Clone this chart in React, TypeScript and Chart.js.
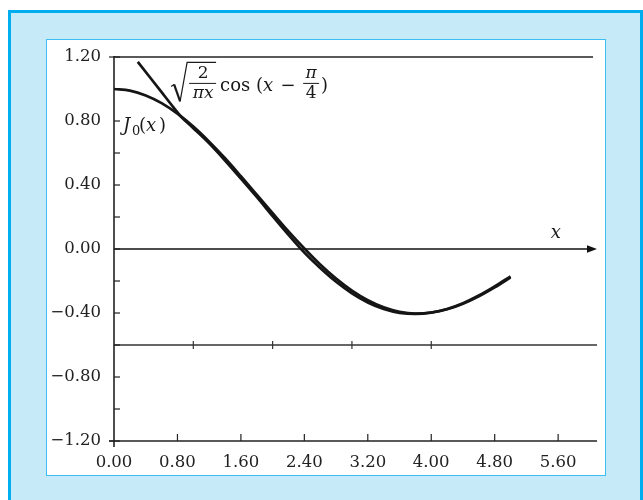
import React, { useEffect, useRef } from 'react';
import { Chart, registerables } from 'chart.js';
Chart.register(...registerables);

// J0(x) series
const X_J0 = [0, 0.2, 0.4, 0.6, 0.8, 1.0, 1.2, 1.4, 1.6, 1.8, 2.0, 2.2, 2.4, 2.6, 2.8, 3.0, 3.2, 3.4, 3.6, 3.8, 4.0, 4.2, 4.4, 4.6, 4.8, 5.0];
const Y_J0 = [1.0, 0.990, 0.960, 0.912, 0.846, 0.765, 0.671, 0.567, 0.455, 0.340, 0.224, 0.110, 0.003, -0.097, -0.185, -0.260, -0.320, -0.364, -0.392, -0.403, -0.397, -0.377, -0.342, -0.296, -0.240, -0.178];
// asymptotic form series (as drawn)
const X_ASYM = [0.30, 0.45, 0.6, 0.75, 0.85, 1.0, 1.2, 1.4, 1.6, 1.8, 2.0, 2.2, 2.4, 2.6, 2.8, 3.0, 3.2, 3.4, 3.6, 3.8, 4.0, 4.2, 4.4, 4.6, 4.8, 5.0];
const Y_ASYM = [1.17, 1.075, 0.98, 0.885, 0.825, 0.755, 0.660, 0.553, 0.440, 0.325, 0.205, 0.088, -0.023, -0.119, -0.205, -0.277, -0.334, -0.375, -0.399, -0.406, -0.398, -0.375, -0.339, -0.291, -0.234, -0.171];

const X_TICKS = [0, 0.8, 1.6, 2.4, 3.2, 4.0, 4.8, 5.6];
const Y_TICKS = [-1.2, -0.8, -0.4, 0, 0.4, 0.8, 1.2];
const Y_MINOR_TICKS = [-1.2, -1.0, -0.8, -0.6, -0.4, -0.2, 0, 0.2, 0.4, 0.6, 0.8, 1.0, 1.2];
const MID_LINE_TICKS = [1, 2, 3, 4];
const X_MIN = 0;
const X_MAX = 6.09;
const Y_MIN = -1.2;
const Y_MAX = 1.2;
const TOP_LINE_VALUE = 1.2;
const TOP_LINE_END = 6.04;
const ZERO_LINE_VALUE = 0;
const MID_LINE_VALUE = -0.6;
const J0_LABEL_AT = [0.115, 0.765];
const ASYM_LABEL_AT = [0.72, 1.035];
const X_LABEL_AT = [5.57, 0.10];

const SERIF = '"DejaVu Serif", serif';

const fmt = (v: number) => (v < 0 ? '\u2212' : '') + Math.abs(v).toFixed(2);

const axesPlugin = {
  id: 'axesPlugin',
  beforeDatasetsDraw(chart: any) {
    const { ctx, scales } = chart;
    const xs = scales.x, ys = scales.y;
    const x0 = xs.getPixelForValue(X_MIN);
    const xEnd = xs.getPixelForValue(X_MAX);
    ctx.save();
    // top line
    ctx.strokeStyle = '#5a5a5a';
    ctx.lineWidth = 2;
    ctx.beginPath();
    ctx.moveTo(x0, ys.getPixelForValue(TOP_LINE_VALUE));
    ctx.lineTo(xs.getPixelForValue(TOP_LINE_END), ys.getPixelForValue(TOP_LINE_VALUE));
    ctx.stroke();
    // mid line at -0.6
    const ym = ys.getPixelForValue(MID_LINE_VALUE);
    ctx.strokeStyle = '#333';
    ctx.lineWidth = 1.6;
    ctx.beginPath();
    ctx.moveTo(x0, ym);
    ctx.lineTo(xEnd, ym);
    ctx.stroke();
    ctx.lineWidth = 1.2;
    MID_LINE_TICKS.forEach((v) => {
      const px = xs.getPixelForValue(v);
      ctx.beginPath();
      ctx.moveTo(px, ym - 4);
      ctx.lineTo(px, ym + 4);
      ctx.stroke();
    });
    // zero line with arrow
    const yz = ys.getPixelForValue(ZERO_LINE_VALUE);
    ctx.strokeStyle = '#111';
    ctx.fillStyle = '#111';
    ctx.lineWidth = 1.6;
    ctx.beginPath();
    ctx.moveTo(x0, yz);
    ctx.lineTo(xEnd - 6, yz);
    ctx.stroke();
    ctx.beginPath();
    ctx.moveTo(xEnd, yz);
    ctx.lineTo(xEnd - 10, yz - 3.8);
    ctx.lineTo(xEnd - 10, yz + 3.8);
    ctx.closePath();
    ctx.fill();
    // bottom x axis
    const yb = ys.getPixelForValue(Y_MIN);
    ctx.strokeStyle = '#222';
    ctx.lineWidth = 1.6;
    ctx.beginPath();
    ctx.moveTo(x0 - 5, yb);
    ctx.lineTo(xEnd, yb);
    ctx.stroke();
    ctx.lineWidth = 1.2;
    X_TICKS.forEach((v) => {
      if (v === X_MIN) return;
      const px = xs.getPixelForValue(v);
      ctx.beginPath();
      ctx.moveTo(px, yb);
      ctx.lineTo(px, yb - 7);
      ctx.stroke();
    });
    // y axis
    ctx.lineWidth = 1.6;
    ctx.beginPath();
    ctx.moveTo(x0, ys.getPixelForValue(Y_MAX) - 1);
    ctx.lineTo(x0, yb + 6);
    ctx.stroke();
    ctx.lineWidth = 1.2;
    Y_MINOR_TICKS.forEach((v) => {
      const py = ys.getPixelForValue(v);
      const edge = v === Y_MAX || v === Y_MIN;
      ctx.beginPath();
      ctx.moveTo(x0 - (edge ? 5 : 0), py);
      ctx.lineTo(x0 + 6, py);
      ctx.stroke();
    });
    ctx.restore();
  },
  afterDatasetsDraw(chart: any) {
    const { ctx, scales } = chart;
    const xs = scales.x, ys = scales.y;
    ctx.save();
    ctx.fillStyle = '#1a1a1a';
    ctx.strokeStyle = '#1a1a1a';
    ctx.textBaseline = 'middle';
    const it = (s: number) => `italic ${s}px ${SERIF}`;
    const up = (s: number) => `${s}px ${SERIF}`;
    const put = (t: string, font: string, x: number, y: number, align: CanvasTextAlign = 'left') => {
      ctx.font = font;
      ctx.textAlign = align;
      ctx.fillText(t, x, y);
    };
    // J0(x)
    const jx = xs.getPixelForValue(J0_LABEL_AT[0]);
    const jy = ys.getPixelForValue(J0_LABEL_AT[1]);
    put('J', it(18), jx, jy);
    put('0', up(13), jx + 9, jy + 5);
    put('(', up(18), jx + 16, jy);
    put('x', it(18), jx + 23, jy);
    put(')', up(18), jx + 36, jy);
    // x axis label
    put('x', it(18), xs.getPixelForValue(X_LABEL_AT[0]), ys.getPixelForValue(X_LABEL_AT[1]), 'center');
    // asymptotic label
    const ax = xs.getPixelForValue(ASYM_LABEL_AT[0]);
    const ay = ys.getPixelForValue(ASYM_LABEL_AT[1]);
    ctx.lineJoin = 'miter';
    ctx.lineWidth = 1.2;
    ctx.beginPath();
    ctx.moveTo(ax, ay + 3);
    ctx.lineTo(ax + 3, ay + 1);
    ctx.stroke();
    ctx.lineWidth = 2.2;
    ctx.beginPath();
    ctx.moveTo(ax + 3, ay + 1);
    ctx.lineTo(ax + 9, ay + 18);
    ctx.stroke();
    ctx.lineWidth = 1.2;
    ctx.beginPath();
    ctx.moveTo(ax + 9, ay + 18);
    ctx.lineTo(ax + 16, ay - 21);
    ctx.lineTo(ax + 45, ay - 21);
    ctx.stroke();
    // fraction 2/(pi x)
    ctx.lineWidth = 1;
    ctx.beginPath();
    ctx.moveTo(ax + 18, ay);
    ctx.lineTo(ax + 45, ay);
    ctx.stroke();
    put('2', up(17), ax + 32, ay - 10, 'center');
    put('\u03c0x', it(17), ax + 32, ay + 10, 'center');
    // cos (x - pi/4)
    put('cos', up(18), ax + 49, ay + 3);
    put('(', up(18), ax + 85, ay + 3);
    put('x', it(18), ax + 92, ay + 3);
    put('\u2212', up(18), ax + 117, ay + 3, 'center');
    ctx.lineWidth = 1;
    ctx.beginPath();
    ctx.moveTo(ax + 132, ay);
    ctx.lineTo(ax + 148, ay);
    ctx.stroke();
    put('\u03c0', it(17), ax + 140, ay - 10, 'center');
    put('4', up(17), ax + 140, ay + 10, 'center');
    put(')', up(18), ax + 150, ay + 3);
    ctx.restore();
  },
};

export default function App() {
  const ref = useRef<HTMLCanvasElement | null>(null);
  useEffect(() => {
    if (!ref.current) return;
    const chart = new Chart(ref.current, {
      type: 'scatter',
      data: {
        datasets: [
          {
            label: 'J0(x)',
            data: X_J0.map((x, i) => ({ x, y: Y_J0[i] })),
            showLine: true,
            borderColor: '#151515',
            borderWidth: 2.7,
            pointRadius: 0,
            cubicInterpolationMode: 'monotone',
          },
          {
            label: 'asymptotic',
            data: X_ASYM.map((x, i) => ({ x, y: Y_ASYM[i] })),
            showLine: true,
            borderColor: '#151515',
            borderWidth: 2.7,
            pointRadius: 0,
            cubicInterpolationMode: 'monotone',
          },
        ],
      },
      options: {
        animation: false,
        responsive: false,
        layout: { padding: { top: 18, right: 9, left: 0, bottom: 0 } },
        plugins: { legend: { display: false }, tooltip: { enabled: false } },
        scales: {
          x: {
            type: 'linear',
            min: X_MIN,
            max: X_MAX,
            grid: { display: false, drawTicks: false },
            border: { display: false },
            afterBuildTicks: (s: any) => { s.ticks = X_TICKS.map((v) => ({ value: v })); },
            afterFit: (s: any) => { s.height = 35; s.paddingLeft = 0; s.paddingRight = 0; },
            ticks: {
              padding: 12,
              maxRotation: 0,
              autoSkip: false,
              color: '#222',
              font: { family: SERIF, size: 16.5 },
              callback: (v: any) => fmt(Number(v)),
            },
          },
          y: {
            type: 'linear',
            min: Y_MIN,
            max: Y_MAX,
            grid: { display: false, drawTicks: false },
            border: { display: false },
            afterBuildTicks: (s: any) => { s.ticks = Y_TICKS.map((v) => ({ value: v })); },
            afterFit: (s: any) => { s.width = 68; s.paddingTop = 0; s.paddingBottom = 0; },
            ticks: {
              padding: 13,
              autoSkip: false,
              color: '#222',
              font: { family: SERIF, size: 16.5 },
              callback: (v: any) => fmt(Number(v)),
            },
          },
        },
      },
      plugins: [axesPlugin],
    } as any);
    return () => chart.destroy();
  }, []);

  return (
    <div>
      <div
        style={{
          position: 'fixed',
          left: 8,
          top: 10,
          width: 635,
          height: 500,
          boxSizing: 'border-box',
          background: '#c7eaf9',
          border: '3px solid #00aeef',
        }}
      />
      <div
        style={{
          position: 'fixed',
          left: 46,
          top: 39,
          width: 560,
          height: 437,
          boxSizing: 'border-box',
          background: '#ffffff',
          border: '1.5px solid #3dbdf0',
        }}
      />
      <canvas
        ref={ref}
        width={560}
        height={437}
        style={{ position: 'fixed', left: 46, top: 39, width: 560, height: 437 }}
      />
    </div>
  );
}
